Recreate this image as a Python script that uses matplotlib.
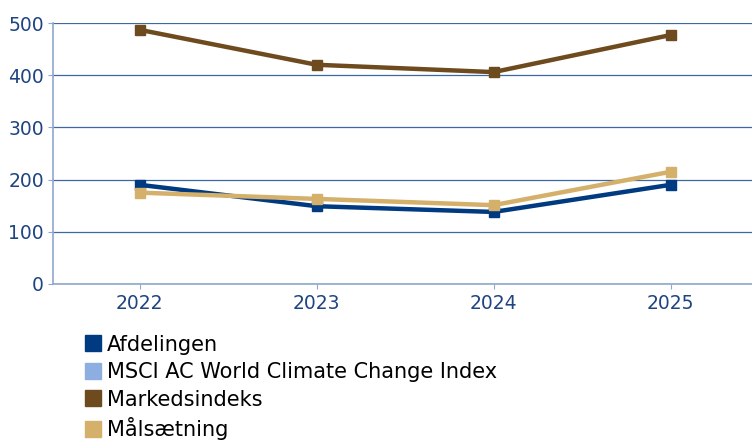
import matplotlib.pyplot as plt
from matplotlib.lines import Line2D

years = ["2022", "2023", "2024", "2025"]
afdelingen = [190, 149, 138, 190]
markedsindeks = [487, 420, 406, 477]
maalsaetning = [175, 163, 151, 215]
msci = [None, None, None, None]  # not plotted in reference

names = ["Afdelingen", "MSCI AC World Climate Change Index", "Markedsindeks", "Målsætning"]
colours = ["#003A80", "#8DAEE0", "#6E4A1F", "#D4B06A"]

plt.rcParams['font.family'] = ['DejaVu Sans']

fig = plt.figure(figsize=(7.52, 4.43), dpi=100)
ax = fig.add_axes([0.0705, 0.359, 0.9295, 0.589])

x = range(len(years))
ax.plot(x, markedsindeks, color=colours[2], lw=3.2, marker='s', ms=6.5, zorder=3)
ax.plot(x, afdelingen, color=colours[0], lw=3.2, marker='s', ms=6.5, zorder=3)
ax.plot(x, maalsaetning, color=colours[3], lw=3.2, marker='s', ms=6.5, zorder=4)

ax.set_xlim(-0.49, 3.46)
ax.set_ylim(0, 500)
ax.set_yticks([0, 100, 200, 300, 400, 500])
ax.set_xticks(list(x))
ax.set_xticklabels(years)
ax.grid(axis='y', color='#3D68A3', lw=0.9)
ax.set_axisbelow(True)
for s in ['top', 'right']:
    ax.spines[s].set_visible(False)
ax.spines['left'].set_color('#8FA8CC')
ax.spines['bottom'].set_color('#8FA8CC')
ax.spines['left'].set_linewidth(1.2)
ax.spines['bottom'].set_linewidth(1.2)
ax.tick_params(axis='both', colors='#8FA8CC', labelcolor='#1F4480', labelsize=13.5, length=3.5)
ax.tick_params(axis='x', pad=4)
ax.tick_params(axis='y', pad=3)

handles = [Line2D([], [], color=c, marker='s', ls='none', ms=11) for c in colours]
fig.legend(handles, names, loc='upper left', bbox_to_anchor=(0.095, 0.268), frameon=False,
           fontsize=15, handletextpad=0.1, labelspacing=0.36, borderpad=0, handlelength=1.1)

fig.savefig('out.png')
